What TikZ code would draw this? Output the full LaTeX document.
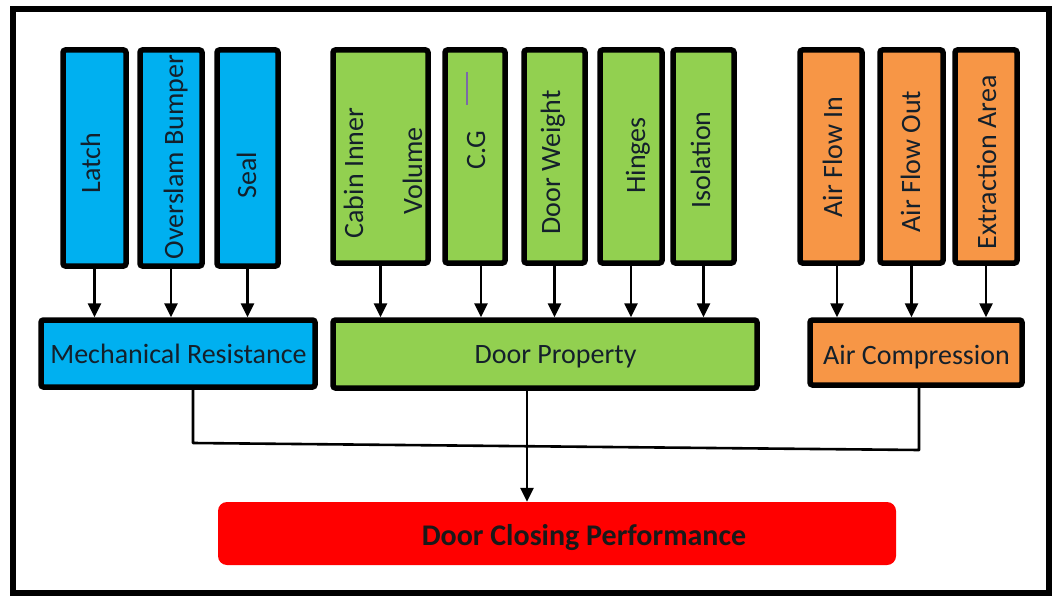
\documentclass[tikz,border=0pt]{standalone}
\usepackage{fontspec}
\setmainfont{Carlito}
\usetikzlibrary{arrows.meta}
\definecolor{mechblue}{HTML}{00B0F0}
\definecolor{propgreen}{HTML}{92D050}
\definecolor{airorange}{HTML}{F79646}
\definecolor{perfred}{HTML}{FF0000}
\definecolor{inkdark}{HTML}{14202B}
\definecolor{markpurple}{HTML}{7B6AA8}

\begin{document}
\begin{tikzpicture}[x=1pt,y=-1pt,
  box/.style={draw=black, line width=5.5pt, rounded corners=2.5pt, inner sep=0pt},
  bluebox/.style={box, fill=mechblue},
  greenbox/.style={box, fill=propgreen},
  orangebox/.style={box, fill=airorange},
  vlabel/.style={rotate=90, anchor=base, inner sep=0pt, text=inkdark,
                 font=\fontsize{28}{32}\selectfont},
  hlabel/.style={anchor=base, inner sep=0pt, text=inkdark,
                 font=\fontsize{28}{32}\selectfont},
  arr/.style={line width=2.6pt, -{Triangle[length=14pt,width=13pt]}},
  wire/.style={line width=2.6pt}
]
\useasboundingbox (0,0) rectangle (1052,596);

% outer frame
\draw[line width=6pt] (12.5,9.5) rectangle (1049,593);

% ---------- mechanical group ----------
\node[bluebox, minimum width=63pt, minimum height=216pt] (latch) at (94.5,158) {};
\node[bluebox, minimum width=62pt, minimum height=216pt] (overslam) at (171,158) {};
\node[bluebox, minimum width=61pt, minimum height=216pt] (seal) at (247.5,158) {};
\node[bluebox, minimum width=274pt, minimum height=67pt] (mech) at (178,353.5) {};

\node[vlabel] (latchtxt) at (100,163) {Latch};
\node[vlabel] (overslamtxt) at (183,157) {Overslam Bumper};
\node[vlabel] (sealtxt) at (256,175) {Seal};
\node[hlabel] (mechtxt) at (178.5,363) {Mechanical Resistance};

% ---------- door property group ----------
\node[greenbox, minimum width=95pt, minimum height=213pt] (cabin) at (380.5,156.5) {};
\node[greenbox, minimum width=60pt, minimum height=213pt] (cg) at (475,156.5) {};
\node[greenbox, minimum width=61pt, minimum height=213pt] (weight) at (554.5,156.5) {};
\node[greenbox, minimum width=62pt, minimum height=213pt] (hinges) at (631,156.5) {};
\node[greenbox, minimum width=61pt, minimum height=213pt] (isolation) at (703.5,156.5) {};
\node[greenbox, minimum width=424pt, minimum height=68pt] (dp) at (545,354) {};

\node[vlabel] (cabintxt) at (363,173) {Cabin Inner};
\node[vlabel] (volumetxt) at (422,171) {Volume};
\node[vlabel] (cgtxt) at (485,150) {C.G};
\draw[markpurple, line width=2pt] (467,72) -- (467,105);
\node[vlabel] (weighttxt) at (560,162.5) {Door Weight};
\node[vlabel] (hingestxt) at (645,155.5) {Hinges};
\node[vlabel] (isolationtxt) at (710,160) {Isolation};
\node[hlabel] (dptxt) at (555.5,363) {Door Property};

% ---------- air group ----------
\node[orangebox, minimum width=62pt, minimum height=213pt] (afin) at (831,156.5) {};
\node[orangebox, minimum width=63pt, minimum height=213pt] (afout) at (911.5,156.5) {};
\node[orangebox, minimum width=62pt, minimum height=213pt] (extract) at (986,156.5) {};
\node[orangebox, minimum width=212pt, minimum height=65pt] (air) at (916,352.5) {};

\node[vlabel] (afintxt) at (842,157) {Air Flow In};
\node[vlabel] (afouttxt) at (920,161.5) {Air Flow Out};
\node[vlabel] (extracttxt) at (996,162.5) {Extraction Area};
\node[hlabel] (airtxt) at (916.5,364) {Air Compression};

% ---------- result ----------
\node[fill=perfred, rounded corners=9pt, minimum width=678pt, minimum height=63pt] (perf) at (557,533.5) {};
\node[anchor=base, inner sep=0pt, text=black!90,
      font=\fontsize{30}{34}\selectfont\bfseries] (perftxt) at (584,545) {Door Closing Performance};

% ---------- inputs into the three groups ----------
\draw[arr] (latch.south) -- (latch.south |- mech.north);
\draw[arr] (overslam.south) -- (overslam.south |- mech.north);
\draw[arr] (seal.south) -- (seal.south |- mech.north);

\draw[arr] (cabin.south) -- (cabin.south |- dp.north);
\coordinate (cgout) at ([xshift=6pt]cg.south);
\draw[arr] (cgout) -- (cgout |- dp.north);
\draw[arr] (weight.south) -- (weight.south |- dp.north);
\draw[arr] (hinges.south) -- (hinges.south |- dp.north);
\draw[arr] (isolation.south) -- (isolation.south |- dp.north);

\coordinate (afinout) at ([xshift=6pt]afin.south);
\draw[arr] (afinout) -- (afinout |- air.north);
\draw[arr] (afout.south) -- (afout.south |- air.north);
\draw[arr] (extract.south) -- (extract.south |- air.north);

% ---------- groups into the result ----------
\coordinate (mechout) at ([xshift=15pt]mech.south);
\coordinate (airout) at ([xshift=3pt]air.south);
\coordinate (jl) at (193,443);
\coordinate (jr) at (919,450);
\draw[wire, line join=round] (mechout) -- (jl) -- (jr) -- (airout);

\coordinate (dpout) at ([xshift=-18pt]dp.south);
\draw[arr] (dpout) -- (dpout |- perf.north);
\end{tikzpicture}
\end{document}
